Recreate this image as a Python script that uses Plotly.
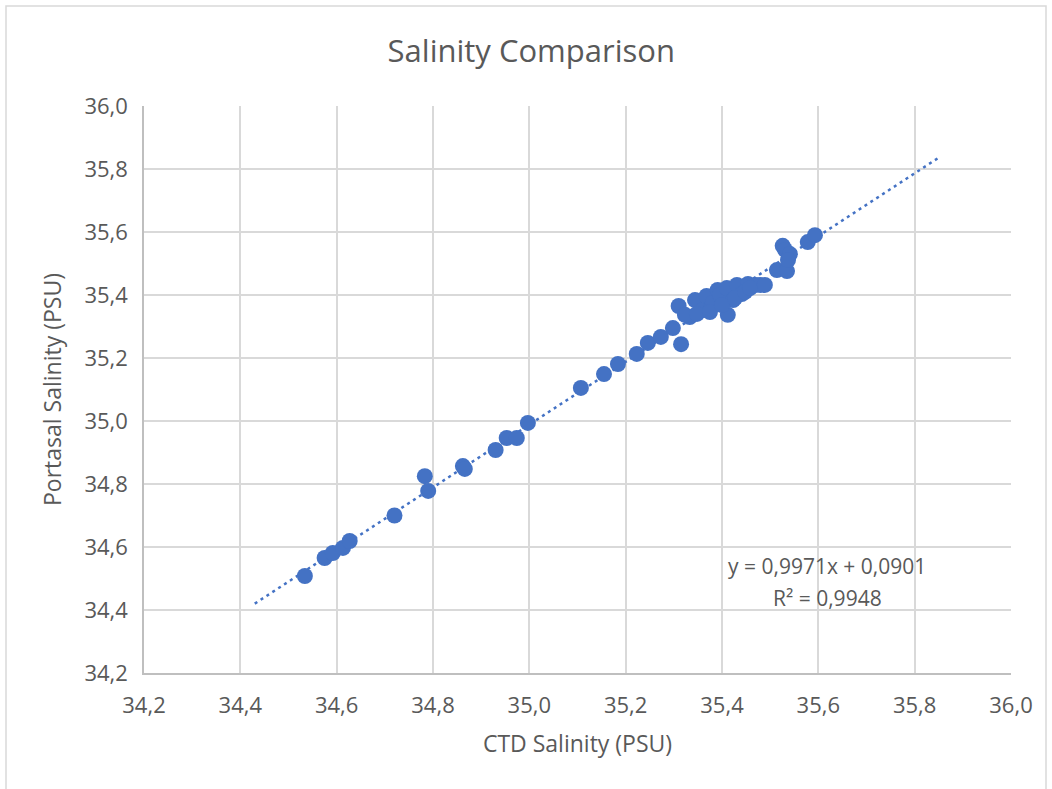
import plotly.graph_objects as go

# CTD vs Portasal salinity readings (PSU)
ctd_salinity = [
    34.534, 34.575, 34.592, 34.613, 34.627, 34.720, 34.783, 34.790,
    34.862, 34.866, 34.930, 34.953, 34.974, 34.997, 35.107, 35.155,
    35.184, 35.223, 35.246, 35.273, 35.298, 35.315, 35.310,
    35.333, 35.344, 35.360, 35.368, 35.379, 35.381, 35.391, 35.396,
    35.410, 35.423, 35.412, 35.431, 35.441, 35.454, 35.470, 35.479,
    35.323, 35.348, 35.375, 35.400, 35.427, 35.448, 35.458, 35.489,
    35.514, 35.535, 35.526, 35.531, 35.541, 35.537, 35.578, 35.593,
]
portasal_salinity = [
    34.508, 34.565, 34.581, 34.597, 34.619, 34.700, 34.825, 34.778,
    34.857, 34.848, 34.908, 34.946, 34.946, 34.994, 35.105, 35.149,
    35.181, 35.213, 35.248, 35.267, 35.295, 35.244, 35.365,
    35.330, 35.384, 35.352, 35.397, 35.365, 35.375, 35.416, 35.400,
    35.422, 35.384, 35.337, 35.432, 35.403, 35.435, 35.432, 35.432,
    35.337, 35.340, 35.346, 35.368, 35.390, 35.410, 35.422, 35.432,
    35.479, 35.476, 35.556, 35.543, 35.530, 35.511, 35.568, 35.590,
]

# Linear trendline y = slope*x + intercept, with backward/forward forecast
slope = 0.9971
intercept = 0.0901
r_squared = 0.9948
trend_x = [34.43, 35.85]
trend_y = [slope * v + intercept for v in trend_x]

tick_vals = [34.2, 34.4, 34.6, 34.8, 35.0, 35.2, 35.4, 35.6, 35.8, 36.0]
tick_text = ["34,2", "34,4", "34,6", "34,8", "35,0", "35,2", "35,4", "35,6", "35,8", "36,0"]

text_color = "#595959"
grid_color = "#d9d9d9"
marker_color = "#4472C4"
font_family = "Open Sans, Lato, sans-serif"

fig = go.Figure()

fig.add_trace(go.Scatter(
    x=trend_x, y=trend_y, mode="lines",
    line=dict(color=marker_color, width=2.5, dash="3px,4px"),
    hoverinfo="skip", showlegend=False,
))

fig.add_trace(go.Scatter(
    x=ctd_salinity, y=portasal_salinity, mode="markers",
    marker=dict(color=marker_color, size=16, line=dict(width=0)),
    showlegend=False,
))

def fmt(v, nd):
    return f"{v:.{nd}f}".replace(".", ",")

# Trendline equation and R² label
label_font = dict(family=font_family, size=21, color=text_color)
fig.add_annotation(
    x=35.618, y=34.540, xref="x", yref="y",
    text=f"y = {fmt(slope, 4)}x + {fmt(intercept, 4)}",
    showarrow=False, xanchor="center", yanchor="middle", font=label_font,
)
fig.add_annotation(
    x=35.618, y=34.438, xref="x", yref="y",
    text=f"R² = {fmt(r_squared, 4)}",
    showarrow=False, xanchor="center", yanchor="middle", font=label_font,
)

axis_common = dict(
    range=[34.2, 36.0],
    tickvals=tick_vals, ticktext=tick_text,
    showgrid=True, gridcolor=grid_color, gridwidth=1.5,
    zeroline=False, showline=True, linecolor="#bfbfbf", linewidth=1.5,
    ticks="", tickfont=dict(family=font_family, size=22, color=text_color),
    fixedrange=True,
)

fig.update_xaxes(
    **axis_common,
    title=dict(text="CTD Salinity (PSU)", standoff=18,
               font=dict(family=font_family, size=23, color=text_color)),
    ticklabelstandoff=12,
)
fig.update_yaxes(
    **axis_common,
    title=dict(text="Portasal Salinity (PSU)", standoff=16,
               font=dict(family=font_family, size=23, color=text_color)),
    ticklabelstandoff=10,
)

# Outer chart frame
pw, ph = 867.0, 567.0
fig.add_shape(
    type="rect", xref="paper", yref="paper",
    x0=(6 - 144) / pw, x1=(1046 - 144) / pw,
    y0=(673 - 800) / ph, y1=(673 - 6) / ph,
    line=dict(color="#d9d9d9", width=1.5), fillcolor="rgba(0,0,0,0)",
    layer="below",
)

fig.update_layout(
    width=1052, height=789,
    margin=dict(l=144, r=41, t=106, b=116),
    paper_bgcolor="white", plot_bgcolor="white",
    title=dict(text="Salinity Comparison", x=0.505, xanchor="center",
               y=0.935, yanchor="middle",
               font=dict(family=font_family, size=31, color=text_color)),
)

fig.write_html("out.html")
